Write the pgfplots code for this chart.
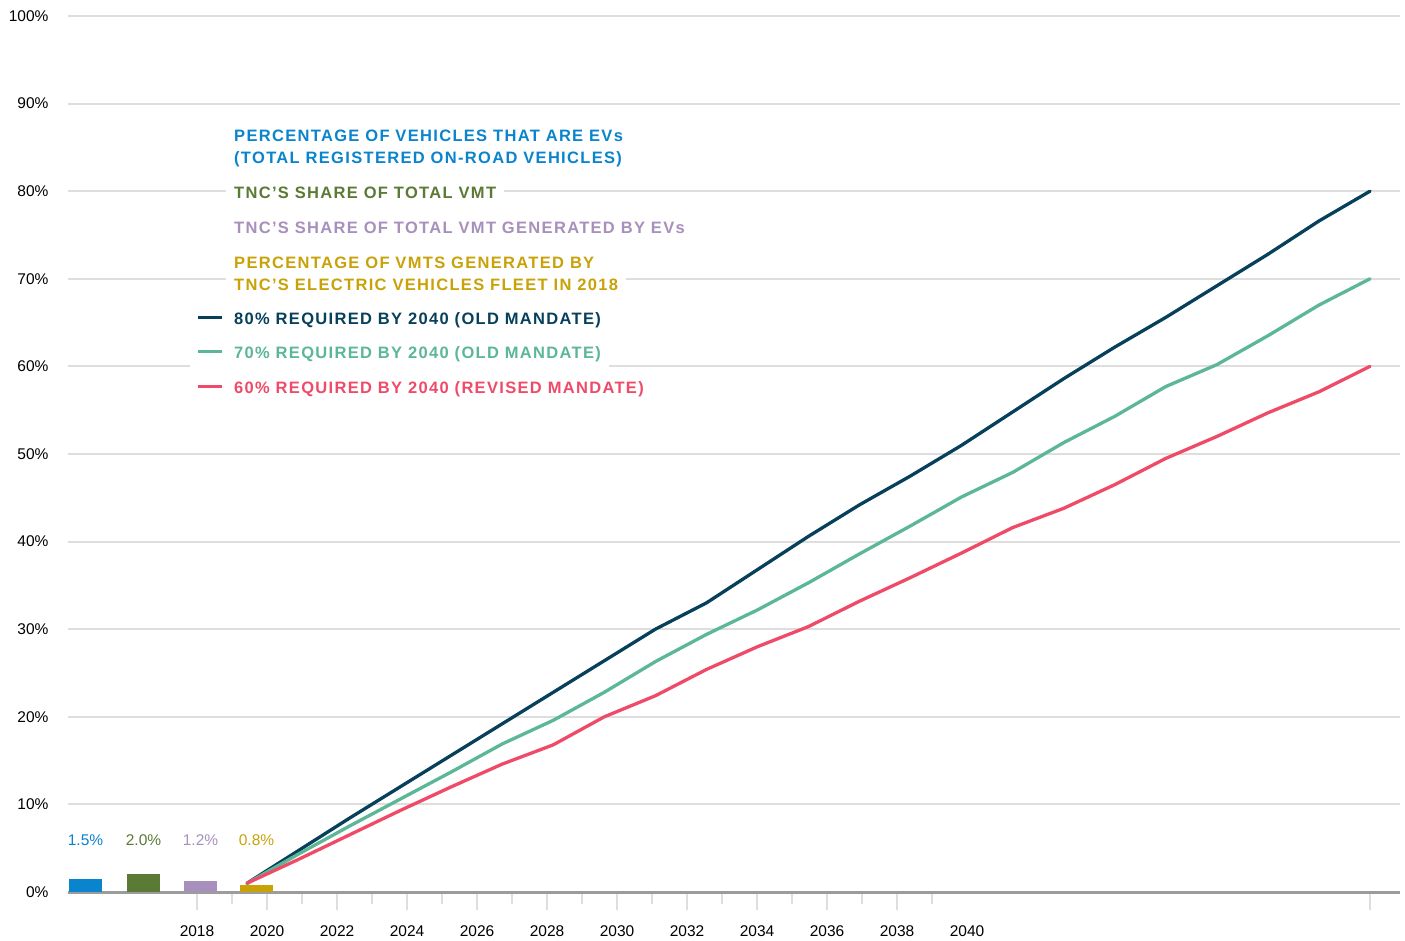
\documentclass[border=0pt]{standalone}
\usepackage{fontspec}
\setmainfont{Liberation Sans}
\newfontfamily\legfont[LetterSpace=8]{Liberation Sans}
\usepackage{pgfplots}
\pgfplotsset{compat=1.18}

\definecolor{navyline}{HTML}{07405A}
\definecolor{tealline}{HTML}{5BB795}
\definecolor{redline}{HTML}{EF4B68}
\definecolor{evblue}{HTML}{0A84CC}
\definecolor{vmtgreen}{HTML}{5A7A35}
\definecolor{evpurple}{HTML}{A890BC}
\definecolor{fleetgold}{HTML}{C9A208}
\definecolor{gridgray}{HTML}{DEDEDE}
\definecolor{axisgray}{HTML}{9C9C9C}

% Mandate trajectories, 2018--2040 (% of vehicles)
\pgfplotstableread{
year old80 old70 rev60
2018 1.0 1.0 1.0
2019 4.7 4.3 3.7
2020 8.4 7.5 6.5
2021 12.0 10.6 9.3
2022 15.6 13.7 12.0
2023 19.2 16.9 14.6
2024 22.8 19.6 16.8
2025 26.4 22.8 20.0
2026 30.0 26.3 22.4
2027 33.0 29.4 25.4
2028 36.8 32.2 28.0
2029 40.6 35.3 30.3
2030 44.2 38.6 33.2
2031 47.5 41.8 35.9
2032 51.0 45.1 38.7
2033 54.8 47.9 41.6
2034 58.6 51.3 43.8
2035 62.2 54.3 46.5
2036 65.6 57.7 49.5
2037 69.2 60.2 52.0
2038 72.8 63.5 54.7
2039 76.6 67.0 57.1
2040 80.0 70.0 60.0
}\mandates

\newcommand{\legtext}{\legfont\bfseries\fontsize{16.5bp}{22bp}\selectfont}
\newcommand{\ticktext}{\fontsize{15.5bp}{18bp}\selectfont}

\begin{document}
\begin{tikzpicture}
\pgfplotsset{every axis/.append style={scale only axis, width=1332bp, height=876bp, ymin=0, ymax=100}}

% grid, year ticks and the 2018 reference bars
\begin{axis}[
  xmin=2014.3143, xmax=2052.3714,
  axis x line*=bottom, axis y line*=left,
  y axis line style={draw=none},
  x axis line style={draw=axisgray, line width=3bp},
  ytick={0,10,...,100},
  yticklabels={0\%,10\%,20\%,30\%,40\%,50\%,60\%,70\%,80\%,90\%,100\%},
  ymajorgrids,
  major grid style={draw=gridgray, line width=2bp},
  tick align=outside,
  major tick length=18bp, minor tick length=12bp,
  tick style={draw=gridgray, line width=2bp},
  ytick style={draw=none},
  xtick={2018,2020,...,2038,2051.5143},
  xticklabels={},
  minor xtick={2019,2021,...,2039},
  extra x ticks={2018,2020,...,2040},
  extra x tick labels={2018,2020,2022,2024,2026,2028,2030,2032,2034,2036,2038,2040},
  extra x tick style={major tick length=0pt, grid=none},
  xticklabel style={yshift=-30bp},
  yticklabel style={xshift=2bp},
  ticklabel style={font=\ticktext},
  clip=false,
]
\addplot[ybar, bar width=33bp, bar shift=0pt, fill=evblue, draw=none] coordinates {(2014.8143,1.5)};
\addplot[ybar, bar width=33bp, bar shift=0pt, fill=vmtgreen, draw=none] coordinates {(2016.4714,2.0)};
\addplot[ybar, bar width=33bp, bar shift=0pt, fill=evpurple, draw=none] coordinates {(2018.1,1.2)};
\addplot[ybar, bar width=33bp, bar shift=0pt, fill=fleetgold, draw=none] coordinates {(2019.7,0.8)};
\node[text=evblue, font=\ticktext] at (axis cs:2014.8143,5.88) {1.5\%};
\node[text=vmtgreen, font=\ticktext] at (axis cs:2016.4714,5.88) {2.0\%};
\node[text=evpurple, font=\ticktext] at (axis cs:2018.1,5.88) {1.2\%};
\node[text=fleetgold, font=\ticktext] at (axis cs:2019.7,5.88) {0.8\%};
\end{axis}

% mandate lines
\begin{axis}[xmin=2014.4933, xmax=2040.5877, hide axis, clip=false]
\addplot[navyline, line width=3.3bp, line join=round, line cap=round] table[x=year, y=old80] {\mandates};
\addplot[tealline, line width=3.3bp, line join=round, line cap=round] table[x=year, y=old70] {\mandates};
\addplot[redline, line width=3.3bp, line join=round, line cap=round] table[x=year, y=rev60] {\mandates};
\end{axis}

% legend
\begin{scope}[every node/.style={fill=white, anchor=west, inner xsep=8bp, inner ysep=5bp, align=left, font=\legtext}]
\node[text=evblue] at (158bp,744bp) {PERCENTAGE OF VEHICLES THAT ARE EVs\\(TOTAL REGISTERED ON-ROAD VEHICLES)};
\node[text=vmtgreen] at (158bp,699bp) {TNC’S SHARE OF TOTAL VMT};
\node[text=evpurple] at (158bp,664bp) {TNC’S SHARE OF TOTAL VMT GENERATED BY EVs};
\node[text=fleetgold] at (158bp,618bp) {PERCENTAGE OF VMTS GENERATED BY\\TNC’S ELECTRIC VEHICLES FLEET IN 2018};
\node[text=navyline] at (122bp,572bp) {\rule[0.3em]{24bp}{3.3bp}\hspace{12bp}80\% REQUIRED BY 2040 (OLD MANDATE)};
\node[text=tealline] at (122bp,538bp) {\rule[0.3em]{24bp}{3.3bp}\hspace{12bp}70\% REQUIRED BY 2040 (OLD MANDATE)};
\node[text=redline, minimum height=40bp] at (122bp,503bp) {\rule[0.3em]{24bp}{3.3bp}\hspace{12bp}60\% REQUIRED BY 2040 (REVISED MANDATE)};
\end{scope}

\pgfresetboundingbox
\useasboundingbox (-68bp,-49bp) rectangle (1337bp,892bp);
\end{tikzpicture}
\end{document}
